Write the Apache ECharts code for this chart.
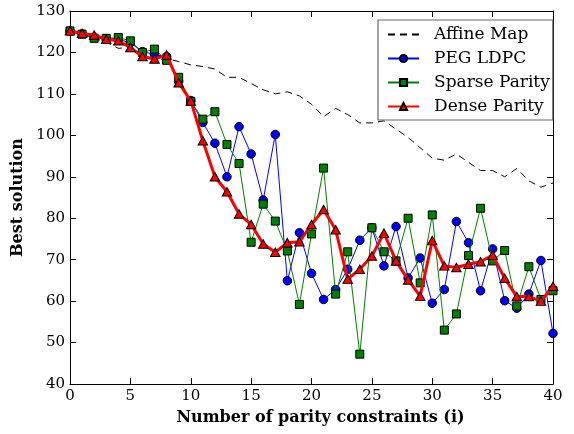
<!DOCTYPE html>
<html><head><meta charset="utf-8">
<script src="https://cdn.jsdelivr.net/npm/echarts@6/dist/echarts.min.js"></script>
<style>html,body{margin:0;padding:0;background:#fff}#c{width:574px;height:434px}</style>
</head><body><div id="c"></div>
<script>
var xs = [];
for (var i = 0; i <= 40; i++) xs.push(i);
var affineMap = [125,124.3,123.3,122.5,121,121.2,119.8,119.5,118.5,117.8,117,116.6,116,114,114,112.5,111,110,110.5,109.5,107.5,104.5,106.5,105,103,103,103.5,101.5,99.5,97,94.5,94,95.5,93.5,91.5,91.5,90,92,89,87.5,88.5];
var pegLdpc = [125.2,124.5,123.6,123.3,123.2,122.3,120.2,119.5,119,113,108.4,103.1,98.1,90.0,102.1,95.5,84.4,100.2,64.9,76.5,66.7,60.4,62.8,67.7,74.7,77.7,68.5,78.0,65.6,70.4,59.5,62.8,79.2,74.1,62.5,72.6,60.1,58.3,61.7,69.8,52.2];
var sparseParity = [125.2,124.4,123.4,123.4,123.6,122.8,120.0,120.8,118.1,114.0,108.2,103.9,105.7,97.8,93.2,74.2,83.4,79.3,72.1,59.2,76.2,92.1,61.7,71.9,47.2,77.7,71.9,69.7,80.0,64.4,80.8,53.0,56.9,71.0,82.4,69.7,72.2,58.8,68.3,60.4,62.5];
var denseParity = [125.2,124.6,124.2,123.2,122.8,121.2,119.0,118.4,119.4,112.7,108.3,98.7,90.0,86.4,81.0,78.5,73.8,71.8,74.1,74.3,78.5,82.1,77.2,65.3,67.7,70.9,76.4,69.7,65.1,61.2,74.6,68.5,68.1,68.9,69.5,71.1,65.5,61.1,61.1,60.0,63.6];
var seriesNames = ['Affine Map','PEG LDPC','Sparse Parity','Dense Parity'];

function pairs(arr){ return arr.map(function(v,i){ return [xs[i], v]; }); }
var FONT = 'DejaVu Serif';
var chart = echarts.init(document.getElementById('c'), null, {renderer:'canvas'});
var axisCommon = {
  axisLine:{show:true,onZero:false,lineStyle:{color:'#000',width:1}},
  axisTick:{show:true,inside:true,length:6,lineStyle:{color:'#000'}},
  splitLine:{show:false}
};
chart.setOption({
  animation:false,
  backgroundColor:'#fff',
  grid:{left:70,right:21,top:11,bottom:50,containLabel:false},
  legend:{
    data:[
      {name:seriesNames[0], itemStyle:{color:'rgba(0,0,0,0)',borderWidth:0,borderColor:'rgba(0,0,0,0)'}},
      seriesNames[1], seriesNames[2], seriesNames[3]
    ],
    orient:'vertical',
    left:378, top:20,
    itemWidth:31, itemHeight:9, itemGap:7,
    padding:[6,3,5,9],
    borderColor:'#666', borderWidth:1.2, backgroundColor:'#fff',
    textStyle:{fontFamily:FONT,fontSize:17,color:'#000',padding:[0,0,0,10]}
  },
  xAxis:[
    Object.assign({type:'value',min:0,max:40,interval:5,position:'bottom',
      name:'Number of parity constraints (i)',nameLocation:'middle',nameGap:26,
      nameTextStyle:{fontFamily:FONT,fontSize:16,fontWeight:'bold',color:'#000',padding:[0,0,0,18]},
      axisLabel:{fontFamily:FONT,fontSize:15,color:'#000',margin:5}},axisCommon),
    Object.assign({type:'value',min:0,max:40,interval:5,position:'top',axisLabel:{show:false}},axisCommon)
  ],
  yAxis:[
    Object.assign({type:'value',min:40,max:130,interval:10,position:'left',
      name:'Best solution',nameLocation:'middle',nameGap:29,
      nameTextStyle:{fontFamily:FONT,fontSize:16,fontWeight:'bold',color:'#000'},
      axisLabel:{fontFamily:FONT,fontSize:15,color:'#000',margin:5}},axisCommon),
    Object.assign({type:'value',min:40,max:130,interval:10,position:'right',axisLabel:{show:false}},axisCommon)
  ],
  series:[
    {name:seriesNames[0],type:'line',data:pairs(affineMap),showSymbol:false,symbol:'none',
     lineStyle:{color:'#000',width:1,type:[7,5]},itemStyle:{color:'#000'},z:2},
    {name:seriesNames[1],type:'line',data:pairs(pegLdpc),symbol:'circle',symbolSize:8.5,
     lineStyle:{color:'#0000ff',width:1},itemStyle:{color:'#0000ff',borderColor:'#000',borderWidth:1},z:3},
    {name:seriesNames[2],type:'line',data:pairs(sparseParity),symbol:'rect',symbolSize:8,
     lineStyle:{color:'#008000',width:1},itemStyle:{color:'#008000',borderColor:'#000',borderWidth:1},z:4},
    {name:seriesNames[3],type:'line',data:pairs(denseParity),symbol:'triangle',symbolSize:[9.5,8.5],
     lineStyle:{color:'#ff0000',width:3},itemStyle:{color:'#ff0000',borderColor:'#000',borderWidth:1},z:5}
  ]
});
</script></body></html>
